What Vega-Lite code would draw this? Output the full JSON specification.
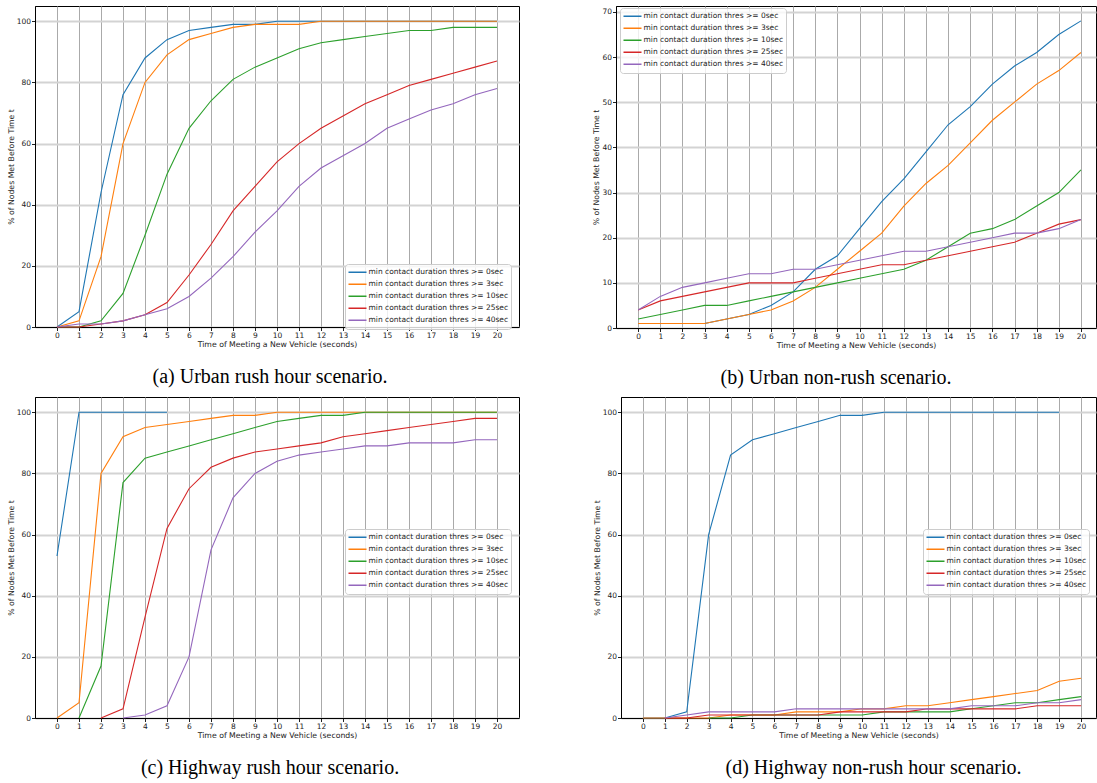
{
"$schema": "https://vega.github.io/schema/vega-lite/v6.json",
"background": "white",
"padding": {"left": 6, "top": 5, "right": 0, "bottom": 0},
"autosize": {"type": "pad"},
"datasets": {"d": [
{"p":"a","s":"0sec","t":0,"v":0},{"p":"a","s":"0sec","t":1,"v":5},{"p":"a","s":"0sec","t":2,"v":44},{"p":"a","s":"0sec","t":3,"v":76},{"p":"a","s":"0sec","t":4,"v":88},{"p":"a","s":"0sec","t":5,"v":94},{"p":"a","s":"0sec","t":6,"v":97},{"p":"a","s":"0sec","t":7,"v":98},{"p":"a","s":"0sec","t":8,"v":99},{"p":"a","s":"0sec","t":9,"v":99},{"p":"a","s":"0sec","t":10,"v":100},{"p":"a","s":"0sec","t":11,"v":100},{"p":"a","s":"0sec","t":12,"v":100},{"p":"a","s":"0sec","t":13,"v":100},{"p":"a","s":"0sec","t":14,"v":100},{"p":"a","s":"0sec","t":15,"v":100},{"p":"a","s":"0sec","t":16,"v":100},{"p":"a","s":"0sec","t":17,"v":100},{"p":"a","s":"0sec","t":18,"v":100},{"p":"a","s":"0sec","t":19,"v":100},{"p":"a","s":"0sec","t":20,"v":100},
{"p":"a","s":"3sec","t":0,"v":0},{"p":"a","s":"3sec","t":1,"v":2},{"p":"a","s":"3sec","t":2,"v":23},{"p":"a","s":"3sec","t":3,"v":60},{"p":"a","s":"3sec","t":4,"v":80},{"p":"a","s":"3sec","t":5,"v":89},{"p":"a","s":"3sec","t":6,"v":94},{"p":"a","s":"3sec","t":7,"v":96},{"p":"a","s":"3sec","t":8,"v":98},{"p":"a","s":"3sec","t":9,"v":99},{"p":"a","s":"3sec","t":10,"v":99},{"p":"a","s":"3sec","t":11,"v":99},{"p":"a","s":"3sec","t":12,"v":100},{"p":"a","s":"3sec","t":13,"v":100},{"p":"a","s":"3sec","t":14,"v":100},{"p":"a","s":"3sec","t":15,"v":100},{"p":"a","s":"3sec","t":16,"v":100},{"p":"a","s":"3sec","t":17,"v":100},{"p":"a","s":"3sec","t":18,"v":100},{"p":"a","s":"3sec","t":19,"v":100},{"p":"a","s":"3sec","t":20,"v":100},
{"p":"a","s":"10sec","t":0,"v":0},{"p":"a","s":"10sec","t":1,"v":0},{"p":"a","s":"10sec","t":2,"v":2},{"p":"a","s":"10sec","t":3,"v":11},{"p":"a","s":"10sec","t":4,"v":30},{"p":"a","s":"10sec","t":5,"v":50},{"p":"a","s":"10sec","t":6,"v":65},{"p":"a","s":"10sec","t":7,"v":74},{"p":"a","s":"10sec","t":8,"v":81},{"p":"a","s":"10sec","t":9,"v":85},{"p":"a","s":"10sec","t":10,"v":88},{"p":"a","s":"10sec","t":11,"v":91},{"p":"a","s":"10sec","t":12,"v":93},{"p":"a","s":"10sec","t":13,"v":94},{"p":"a","s":"10sec","t":14,"v":95},{"p":"a","s":"10sec","t":15,"v":96},{"p":"a","s":"10sec","t":16,"v":97},{"p":"a","s":"10sec","t":17,"v":97},{"p":"a","s":"10sec","t":18,"v":98},{"p":"a","s":"10sec","t":19,"v":98},{"p":"a","s":"10sec","t":20,"v":98},
{"p":"a","s":"25sec","t":0,"v":0},{"p":"a","s":"25sec","t":1,"v":0},{"p":"a","s":"25sec","t":2,"v":1},{"p":"a","s":"25sec","t":3,"v":2},{"p":"a","s":"25sec","t":4,"v":4},{"p":"a","s":"25sec","t":5,"v":8},{"p":"a","s":"25sec","t":6,"v":17},{"p":"a","s":"25sec","t":7,"v":27},{"p":"a","s":"25sec","t":8,"v":38},{"p":"a","s":"25sec","t":9,"v":46},{"p":"a","s":"25sec","t":10,"v":54},{"p":"a","s":"25sec","t":11,"v":60},{"p":"a","s":"25sec","t":12,"v":65},{"p":"a","s":"25sec","t":13,"v":69},{"p":"a","s":"25sec","t":14,"v":73},{"p":"a","s":"25sec","t":15,"v":76},{"p":"a","s":"25sec","t":16,"v":79},{"p":"a","s":"25sec","t":17,"v":81},{"p":"a","s":"25sec","t":18,"v":83},{"p":"a","s":"25sec","t":19,"v":85},{"p":"a","s":"25sec","t":20,"v":87},
{"p":"a","s":"40sec","t":0,"v":0},{"p":"a","s":"40sec","t":1,"v":1},{"p":"a","s":"40sec","t":2,"v":1},{"p":"a","s":"40sec","t":3,"v":2},{"p":"a","s":"40sec","t":4,"v":4},{"p":"a","s":"40sec","t":5,"v":6},{"p":"a","s":"40sec","t":6,"v":10},{"p":"a","s":"40sec","t":7,"v":16},{"p":"a","s":"40sec","t":8,"v":23},{"p":"a","s":"40sec","t":9,"v":31},{"p":"a","s":"40sec","t":10,"v":38},{"p":"a","s":"40sec","t":11,"v":46},{"p":"a","s":"40sec","t":12,"v":52},{"p":"a","s":"40sec","t":13,"v":56},{"p":"a","s":"40sec","t":14,"v":60},{"p":"a","s":"40sec","t":15,"v":65},{"p":"a","s":"40sec","t":16,"v":68},{"p":"a","s":"40sec","t":17,"v":71},{"p":"a","s":"40sec","t":18,"v":73},{"p":"a","s":"40sec","t":19,"v":76},{"p":"a","s":"40sec","t":20,"v":78},

{"p":"b","s":"0sec","t":0,"v":1},{"p":"b","s":"0sec","t":1,"v":1},{"p":"b","s":"0sec","t":2,"v":1},{"p":"b","s":"0sec","t":3,"v":1},{"p":"b","s":"0sec","t":4,"v":2},{"p":"b","s":"0sec","t":5,"v":3},{"p":"b","s":"0sec","t":6,"v":5},{"p":"b","s":"0sec","t":7,"v":8},{"p":"b","s":"0sec","t":8,"v":13},{"p":"b","s":"0sec","t":9,"v":16},{"p":"b","s":"0sec","t":10,"v":22},{"p":"b","s":"0sec","t":11,"v":28},{"p":"b","s":"0sec","t":12,"v":33},{"p":"b","s":"0sec","t":13,"v":39},{"p":"b","s":"0sec","t":14,"v":45},{"p":"b","s":"0sec","t":15,"v":49},{"p":"b","s":"0sec","t":16,"v":54},{"p":"b","s":"0sec","t":17,"v":58},{"p":"b","s":"0sec","t":18,"v":61},{"p":"b","s":"0sec","t":19,"v":65},{"p":"b","s":"0sec","t":20,"v":68},
{"p":"b","s":"3sec","t":0,"v":1},{"p":"b","s":"3sec","t":1,"v":1},{"p":"b","s":"3sec","t":2,"v":1},{"p":"b","s":"3sec","t":3,"v":1},{"p":"b","s":"3sec","t":4,"v":2},{"p":"b","s":"3sec","t":5,"v":3},{"p":"b","s":"3sec","t":6,"v":4},{"p":"b","s":"3sec","t":7,"v":6},{"p":"b","s":"3sec","t":8,"v":9},{"p":"b","s":"3sec","t":9,"v":13},{"p":"b","s":"3sec","t":10,"v":17},{"p":"b","s":"3sec","t":11,"v":21},{"p":"b","s":"3sec","t":12,"v":27},{"p":"b","s":"3sec","t":13,"v":32},{"p":"b","s":"3sec","t":14,"v":36},{"p":"b","s":"3sec","t":15,"v":41},{"p":"b","s":"3sec","t":16,"v":46},{"p":"b","s":"3sec","t":17,"v":50},{"p":"b","s":"3sec","t":18,"v":54},{"p":"b","s":"3sec","t":19,"v":57},{"p":"b","s":"3sec","t":20,"v":61},
{"p":"b","s":"10sec","t":0,"v":2},{"p":"b","s":"10sec","t":1,"v":3},{"p":"b","s":"10sec","t":2,"v":4},{"p":"b","s":"10sec","t":3,"v":5},{"p":"b","s":"10sec","t":4,"v":5},{"p":"b","s":"10sec","t":5,"v":6},{"p":"b","s":"10sec","t":6,"v":7},{"p":"b","s":"10sec","t":7,"v":8},{"p":"b","s":"10sec","t":8,"v":9},{"p":"b","s":"10sec","t":9,"v":10},{"p":"b","s":"10sec","t":10,"v":11},{"p":"b","s":"10sec","t":11,"v":12},{"p":"b","s":"10sec","t":12,"v":13},{"p":"b","s":"10sec","t":13,"v":15},{"p":"b","s":"10sec","t":14,"v":18},{"p":"b","s":"10sec","t":15,"v":21},{"p":"b","s":"10sec","t":16,"v":22},{"p":"b","s":"10sec","t":17,"v":24},{"p":"b","s":"10sec","t":18,"v":27},{"p":"b","s":"10sec","t":19,"v":30},{"p":"b","s":"10sec","t":20,"v":35},
{"p":"b","s":"25sec","t":0,"v":4},{"p":"b","s":"25sec","t":1,"v":6},{"p":"b","s":"25sec","t":2,"v":7},{"p":"b","s":"25sec","t":3,"v":8},{"p":"b","s":"25sec","t":4,"v":9},{"p":"b","s":"25sec","t":5,"v":10},{"p":"b","s":"25sec","t":6,"v":10},{"p":"b","s":"25sec","t":7,"v":10},{"p":"b","s":"25sec","t":8,"v":11},{"p":"b","s":"25sec","t":9,"v":12},{"p":"b","s":"25sec","t":10,"v":13},{"p":"b","s":"25sec","t":11,"v":14},{"p":"b","s":"25sec","t":12,"v":14},{"p":"b","s":"25sec","t":13,"v":15},{"p":"b","s":"25sec","t":14,"v":16},{"p":"b","s":"25sec","t":15,"v":17},{"p":"b","s":"25sec","t":16,"v":18},{"p":"b","s":"25sec","t":17,"v":19},{"p":"b","s":"25sec","t":18,"v":21},{"p":"b","s":"25sec","t":19,"v":23},{"p":"b","s":"25sec","t":20,"v":24},
{"p":"b","s":"40sec","t":0,"v":4},{"p":"b","s":"40sec","t":1,"v":7},{"p":"b","s":"40sec","t":2,"v":9},{"p":"b","s":"40sec","t":3,"v":10},{"p":"b","s":"40sec","t":4,"v":11},{"p":"b","s":"40sec","t":5,"v":12},{"p":"b","s":"40sec","t":6,"v":12},{"p":"b","s":"40sec","t":7,"v":13},{"p":"b","s":"40sec","t":8,"v":13},{"p":"b","s":"40sec","t":9,"v":14},{"p":"b","s":"40sec","t":10,"v":15},{"p":"b","s":"40sec","t":11,"v":16},{"p":"b","s":"40sec","t":12,"v":17},{"p":"b","s":"40sec","t":13,"v":17},{"p":"b","s":"40sec","t":14,"v":18},{"p":"b","s":"40sec","t":15,"v":19},{"p":"b","s":"40sec","t":16,"v":20},{"p":"b","s":"40sec","t":17,"v":21},{"p":"b","s":"40sec","t":18,"v":21},{"p":"b","s":"40sec","t":19,"v":22},{"p":"b","s":"40sec","t":20,"v":24},

{"p":"c","s":"0sec","t":0,"v":53},{"p":"c","s":"0sec","t":1,"v":100},{"p":"c","s":"0sec","t":2,"v":100},{"p":"c","s":"0sec","t":3,"v":100},{"p":"c","s":"0sec","t":4,"v":100},{"p":"c","s":"0sec","t":5,"v":100},
{"p":"c","s":"3sec","t":0,"v":0},{"p":"c","s":"3sec","t":1,"v":5},{"p":"c","s":"3sec","t":2,"v":80},{"p":"c","s":"3sec","t":3,"v":92},{"p":"c","s":"3sec","t":4,"v":95},{"p":"c","s":"3sec","t":5,"v":96},{"p":"c","s":"3sec","t":6,"v":97},{"p":"c","s":"3sec","t":7,"v":98},{"p":"c","s":"3sec","t":8,"v":99},{"p":"c","s":"3sec","t":9,"v":99},{"p":"c","s":"3sec","t":10,"v":100},{"p":"c","s":"3sec","t":11,"v":100},{"p":"c","s":"3sec","t":12,"v":100},{"p":"c","s":"3sec","t":13,"v":100},{"p":"c","s":"3sec","t":14,"v":100},{"p":"c","s":"3sec","t":15,"v":100},{"p":"c","s":"3sec","t":16,"v":100},{"p":"c","s":"3sec","t":17,"v":100},{"p":"c","s":"3sec","t":18,"v":100},{"p":"c","s":"3sec","t":19,"v":100},{"p":"c","s":"3sec","t":20,"v":100},
{"p":"c","s":"10sec","t":1,"v":0},{"p":"c","s":"10sec","t":2,"v":17},{"p":"c","s":"10sec","t":3,"v":77},{"p":"c","s":"10sec","t":4,"v":85},{"p":"c","s":"10sec","t":5,"v":87},{"p":"c","s":"10sec","t":6,"v":89},{"p":"c","s":"10sec","t":7,"v":91},{"p":"c","s":"10sec","t":8,"v":93},{"p":"c","s":"10sec","t":9,"v":95},{"p":"c","s":"10sec","t":10,"v":97},{"p":"c","s":"10sec","t":11,"v":98},{"p":"c","s":"10sec","t":12,"v":99},{"p":"c","s":"10sec","t":13,"v":99},{"p":"c","s":"10sec","t":14,"v":100},{"p":"c","s":"10sec","t":15,"v":100},{"p":"c","s":"10sec","t":16,"v":100},{"p":"c","s":"10sec","t":17,"v":100},{"p":"c","s":"10sec","t":18,"v":100},{"p":"c","s":"10sec","t":19,"v":100},{"p":"c","s":"10sec","t":20,"v":100},
{"p":"c","s":"25sec","t":2,"v":0},{"p":"c","s":"25sec","t":3,"v":3},{"p":"c","s":"25sec","t":4,"v":33},{"p":"c","s":"25sec","t":5,"v":62},{"p":"c","s":"25sec","t":6,"v":75},{"p":"c","s":"25sec","t":7,"v":82},{"p":"c","s":"25sec","t":8,"v":85},{"p":"c","s":"25sec","t":9,"v":87},{"p":"c","s":"25sec","t":10,"v":88},{"p":"c","s":"25sec","t":11,"v":89},{"p":"c","s":"25sec","t":12,"v":90},{"p":"c","s":"25sec","t":13,"v":92},{"p":"c","s":"25sec","t":14,"v":93},{"p":"c","s":"25sec","t":15,"v":94},{"p":"c","s":"25sec","t":16,"v":95},{"p":"c","s":"25sec","t":17,"v":96},{"p":"c","s":"25sec","t":18,"v":97},{"p":"c","s":"25sec","t":19,"v":98},{"p":"c","s":"25sec","t":20,"v":98},
{"p":"c","s":"40sec","t":3,"v":0},{"p":"c","s":"40sec","t":4,"v":1},{"p":"c","s":"40sec","t":5,"v":4},{"p":"c","s":"40sec","t":6,"v":20},{"p":"c","s":"40sec","t":7,"v":55},{"p":"c","s":"40sec","t":8,"v":72},{"p":"c","s":"40sec","t":9,"v":80},{"p":"c","s":"40sec","t":10,"v":84},{"p":"c","s":"40sec","t":11,"v":86},{"p":"c","s":"40sec","t":12,"v":87},{"p":"c","s":"40sec","t":13,"v":88},{"p":"c","s":"40sec","t":14,"v":89},{"p":"c","s":"40sec","t":15,"v":89},{"p":"c","s":"40sec","t":16,"v":90},{"p":"c","s":"40sec","t":17,"v":90},{"p":"c","s":"40sec","t":18,"v":90},{"p":"c","s":"40sec","t":19,"v":91},{"p":"c","s":"40sec","t":20,"v":91},

{"p":"d","s":"0sec","t":0,"v":0},{"p":"d","s":"0sec","t":1,"v":0},{"p":"d","s":"0sec","t":2,"v":2},{"p":"d","s":"0sec","t":3,"v":60},{"p":"d","s":"0sec","t":4,"v":86},{"p":"d","s":"0sec","t":5,"v":91},{"p":"d","s":"0sec","t":6,"v":93},{"p":"d","s":"0sec","t":7,"v":95},{"p":"d","s":"0sec","t":8,"v":97},{"p":"d","s":"0sec","t":9,"v":99},{"p":"d","s":"0sec","t":10,"v":99},{"p":"d","s":"0sec","t":11,"v":100},{"p":"d","s":"0sec","t":12,"v":100},{"p":"d","s":"0sec","t":13,"v":100},{"p":"d","s":"0sec","t":14,"v":100},{"p":"d","s":"0sec","t":15,"v":100},{"p":"d","s":"0sec","t":16,"v":100},{"p":"d","s":"0sec","t":17,"v":100},{"p":"d","s":"0sec","t":18,"v":100},{"p":"d","s":"0sec","t":19,"v":100},
{"p":"d","s":"3sec","t":0,"v":0},{"p":"d","s":"3sec","t":1,"v":0},{"p":"d","s":"3sec","t":2,"v":0},{"p":"d","s":"3sec","t":3,"v":0},{"p":"d","s":"3sec","t":4,"v":1},{"p":"d","s":"3sec","t":5,"v":1},{"p":"d","s":"3sec","t":6,"v":1},{"p":"d","s":"3sec","t":7,"v":2},{"p":"d","s":"3sec","t":8,"v":2},{"p":"d","s":"3sec","t":9,"v":2},{"p":"d","s":"3sec","t":10,"v":3},{"p":"d","s":"3sec","t":11,"v":3},{"p":"d","s":"3sec","t":12,"v":4},{"p":"d","s":"3sec","t":13,"v":4},{"p":"d","s":"3sec","t":14,"v":5},{"p":"d","s":"3sec","t":15,"v":6},{"p":"d","s":"3sec","t":16,"v":7},{"p":"d","s":"3sec","t":17,"v":8},{"p":"d","s":"3sec","t":18,"v":9},{"p":"d","s":"3sec","t":19,"v":12},{"p":"d","s":"3sec","t":20,"v":13},
{"p":"d","s":"10sec","t":3,"v":0},{"p":"d","s":"10sec","t":4,"v":0},{"p":"d","s":"10sec","t":5,"v":1},{"p":"d","s":"10sec","t":6,"v":1},{"p":"d","s":"10sec","t":7,"v":1},{"p":"d","s":"10sec","t":8,"v":1},{"p":"d","s":"10sec","t":9,"v":1},{"p":"d","s":"10sec","t":10,"v":1},{"p":"d","s":"10sec","t":11,"v":2},{"p":"d","s":"10sec","t":12,"v":2},{"p":"d","s":"10sec","t":13,"v":2},{"p":"d","s":"10sec","t":14,"v":2},{"p":"d","s":"10sec","t":15,"v":3},{"p":"d","s":"10sec","t":16,"v":4},{"p":"d","s":"10sec","t":17,"v":5},{"p":"d","s":"10sec","t":18,"v":5},{"p":"d","s":"10sec","t":19,"v":6},{"p":"d","s":"10sec","t":20,"v":7},
{"p":"d","s":"25sec","t":1,"v":0},{"p":"d","s":"25sec","t":2,"v":0},{"p":"d","s":"25sec","t":3,"v":1},{"p":"d","s":"25sec","t":4,"v":1},{"p":"d","s":"25sec","t":5,"v":1},{"p":"d","s":"25sec","t":6,"v":1},{"p":"d","s":"25sec","t":7,"v":1},{"p":"d","s":"25sec","t":8,"v":1},{"p":"d","s":"25sec","t":9,"v":2},{"p":"d","s":"25sec","t":10,"v":2},{"p":"d","s":"25sec","t":11,"v":2},{"p":"d","s":"25sec","t":12,"v":2},{"p":"d","s":"25sec","t":13,"v":3},{"p":"d","s":"25sec","t":14,"v":3},{"p":"d","s":"25sec","t":15,"v":3},{"p":"d","s":"25sec","t":16,"v":3},{"p":"d","s":"25sec","t":17,"v":3},{"p":"d","s":"25sec","t":18,"v":4},{"p":"d","s":"25sec","t":19,"v":4},{"p":"d","s":"25sec","t":20,"v":4},
{"p":"d","s":"40sec","t":1,"v":0},{"p":"d","s":"40sec","t":2,"v":1},{"p":"d","s":"40sec","t":3,"v":2},{"p":"d","s":"40sec","t":4,"v":2},{"p":"d","s":"40sec","t":5,"v":2},{"p":"d","s":"40sec","t":6,"v":2},{"p":"d","s":"40sec","t":7,"v":3},{"p":"d","s":"40sec","t":8,"v":3},{"p":"d","s":"40sec","t":9,"v":3},{"p":"d","s":"40sec","t":10,"v":3},{"p":"d","s":"40sec","t":11,"v":3},{"p":"d","s":"40sec","t":12,"v":3},{"p":"d","s":"40sec","t":13,"v":3},{"p":"d","s":"40sec","t":14,"v":3},{"p":"d","s":"40sec","t":15,"v":4},{"p":"d","s":"40sec","t":16,"v":4},{"p":"d","s":"40sec","t":17,"v":4},{"p":"d","s":"40sec","t":18,"v":5},{"p":"d","s":"40sec","t":19,"v":5},{"p":"d","s":"40sec","t":20,"v":6}
]},
"data": {"name": "d"},
"spacing": 7,
"resolve": {"scale": {"color": "independent"}, "legend": {"color": "independent"}},
"vconcat": [
{"hconcat": [
{"width": 484, "height": 321,
 "transform": [{"filter": "datum.p == 'a'"}],
 "title": {"text": "(a) Urban rush hour scenario.", "dx": -7},
 "mark": {"type": "line", "strokeWidth": 1.1},
 "encoding": {
  "x": {"field": "t", "type": "quantitative", "scale": {"domain": [-1, 21], "nice": false, "zero": false}, "axis": {"values": [0,1,2,3,4,5,6,7,8,9,10,11,12,13,14,15,16,17,18,19,20], "title": "Time of Meeting a New Vehicle (seconds)"}},
  "y": {"field": "v", "type": "quantitative", "scale": {"domain": [0, 105], "nice": false}, "axis": {"values": [0,20,40,60,80,100], "title": "% of Nodes Met Before Time t"}},
  "color": {"field": "s", "type": "nominal", "scale": {"domain": ["0sec","3sec","10sec","25sec","40sec"], "range": ["#1f77b4","#ff7f0e","#2ca02c","#d62728","#9467bd"]}, "legend": {"title": null, "legendX": 310, "legendY": 258, "labelExpr": "'min contact duration thres >= ' + datum.label"}}
 }},
{"width": 480, "height": 322,
 "transform": [{"filter": "datum.p == 'b'"}],
 "title": {"text": "(b) Urban non-rush scenario.", "dx": -20},
 "mark": {"type": "line", "strokeWidth": 1.1},
 "encoding": {
  "x": {"field": "t", "type": "quantitative", "scale": {"domain": [-1, 20.68], "nice": false, "zero": false}, "axis": {"values": [0,1,2,3,4,5,6,7,8,9,10,11,12,13,14,15,16,17,18,19,20], "title": "Time of Meeting a New Vehicle (seconds)"}},
  "y": {"field": "v", "type": "quantitative", "scale": {"domain": [0, 71.3], "nice": false}, "axis": {"values": [0,10,20,30,40,50,60,70], "title": "% of Nodes Met Before Time t"}},
  "color": {"field": "s", "type": "nominal", "scale": {"domain": ["0sec","3sec","10sec","25sec","40sec"], "range": ["#1f77b4","#ff7f0e","#2ca02c","#d62728","#9467bd"]}, "legend": {"title": null, "legendX": 4, "legendY": 2, "labelExpr": "'min contact duration thres >= ' + datum.label"}}
 }}
], "spacing": 97, "bounds": "flush", "resolve": {"scale": {"color": "independent"}, "legend": {"color": "independent"}}},
{"hconcat": [
{"width": 484, "height": 321,
 "transform": [{"filter": "datum.p == 'c'"}],
 "title": {"text": "(c) Highway rush hour scenario.", "dx": -7},
 "mark": {"type": "line", "strokeWidth": 1.1},
 "encoding": {
  "x": {"field": "t", "type": "quantitative", "scale": {"domain": [-1, 21], "nice": false, "zero": false}, "axis": {"values": [0,1,2,3,4,5,6,7,8,9,10,11,12,13,14,15,16,17,18,19,20], "title": "Time of Meeting a New Vehicle (seconds)"}},
  "y": {"field": "v", "type": "quantitative", "scale": {"domain": [0, 105], "nice": false}, "axis": {"values": [0,20,40,60,80,100], "title": "% of Nodes Met Before Time t"}},
  "color": {"field": "s", "type": "nominal", "scale": {"domain": ["0sec","3sec","10sec","25sec","40sec"], "range": ["#1f77b4","#ff7f0e","#2ca02c","#d62728","#9467bd"]}, "legend": {"title": null, "legendX": 310, "legendY": 132, "labelExpr": "'min contact duration thres >= ' + datum.label"}}
 }},
{"width": 475, "height": 321,
 "transform": [{"filter": "datum.p == 'd'"}],
 "title": {"text": "(d) Highway non-rush hour scenario.", "dx": 15},
 "mark": {"type": "line", "strokeWidth": 1.1},
 "encoding": {
  "x": {"field": "t", "type": "quantitative", "scale": {"domain": [-1, 20.68], "nice": false, "zero": false}, "axis": {"values": [0,1,2,3,4,5,6,7,8,9,10,11,12,13,14,15,16,17,18,19,20], "title": "Time of Meeting a New Vehicle (seconds)"}},
  "y": {"field": "v", "type": "quantitative", "scale": {"domain": [0, 105], "nice": false}, "axis": {"values": [0,20,40,60,80,100], "title": "% of Nodes Met Before Time t"}},
  "color": {"field": "s", "type": "nominal", "scale": {"domain": ["0sec","3sec","10sec","25sec","40sec"], "range": ["#1f77b4","#ff7f0e","#2ca02c","#d62728","#9467bd"]}, "legend": {"title": null, "legendX": 302, "legendY": 132, "labelExpr": "'min contact duration thres >= ' + datum.label"}}
 }}
], "spacing": 102, "bounds": "flush", "resolve": {"scale": {"color": "independent"}, "legend": {"color": "independent"}}}
],
"config": {
 "view": {"stroke": "black", "strokeWidth": 1},
 "axis": {"labelFont": "DejaVu Sans", "titleFont": "DejaVu Sans", "labelFontSize": 7.5, "titleFontSize": 7.75, "titleFontWeight": "normal", "labelColor": "#222", "titleColor": "#222", "domainColor": "black", "domainWidth": 1, "tickColor": "#222", "tickSize": 3.5, "labelPadding": 1, "labelOverlap": false, "labelFlush": false, "grid": true, "gridOpacity": 1},
 "axisX": {"gridColor": "#aaaaaa", "gridWidth": 1, "titlePadding": 1},
 "axisY": {"gridColor": "#d3d3d3", "gridWidth": 2, "titlePadding": 1},
 "legend": {"orient": "none", "symbolType": "M0,0H4.5", "symbolSize": 64, "symbolStrokeWidth": 1.5, "symbolOffset": -4, "labelOffset": 15, "clipHeight": 11.3, "rowPadding": 0, "padding": 2.5, "labelFont": "DejaVu Sans", "labelFontSize": 7.5, "labelColor": "#222", "fillColor": "rgba(255,255,255,0.8)", "strokeColor": "#cccccc", "cornerRadius": 3, "labelLimit": 0},
 "title": {"font": "Liberation Serif", "fontSize": 20, "fontWeight": "normal", "orient": "bottom", "anchor": "middle", "offset": 19, "color": "black", "frame": "group"}
}
}
